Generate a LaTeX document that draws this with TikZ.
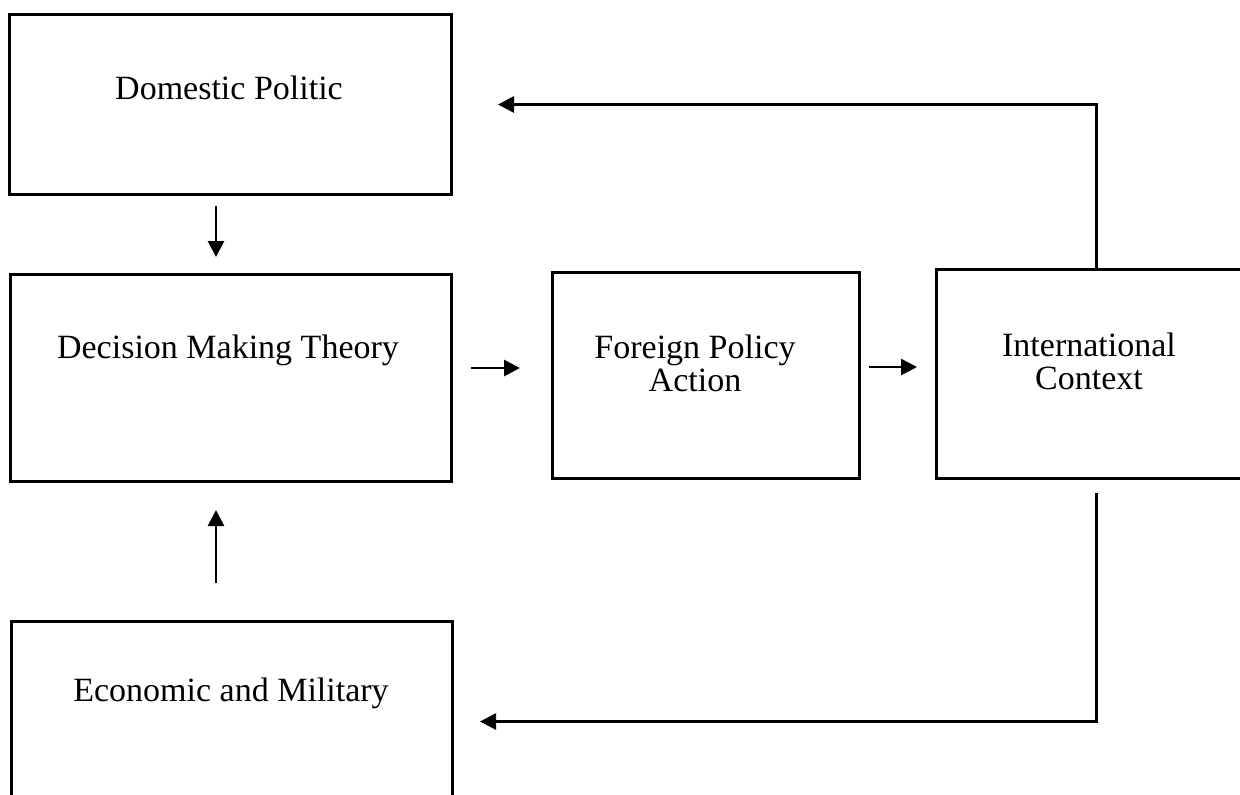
\documentclass[tikz,border=0pt]{standalone}
\usepackage{fontspec}
\setmainfont{Liberation Serif}
\usetikzlibrary{arrows.meta}

\begin{document}
\begin{tikzpicture}[x=0.5pt,y=-0.5pt,
  box/.style={draw, line width=1.5pt, inner sep=0pt, anchor=north west},
  txt/.style={font=\fontsize{17}{16.5}\selectfont, align=center, inner sep=0pt},
  arr/.style={line width=1.4pt, -{Triangle[length=8pt,width=8pt]}}]
\useasboundingbox (0,0) rectangle (1240,794);
\clip (0,0) rectangle (1240,794);
% boxes
\node [box, minimum width=221pt, minimum height=90pt] (dom) at (8,13) {};
\node [box, minimum width=220.5pt, minimum height=103.5pt] (dec) at (9,273) {};
\node [box, minimum width=153.5pt, minimum height=103pt] (fpa) at (551,271) {};
\node [box, minimum width=160pt, minimum height=104.5pt] (ict) at (935,268) {};
\node [box, minimum width=220.5pt, minimum height=100pt] (eco) at (10,620) {};
% texts
\node [txt] (dom-t) at (229,88) {Domestic Politic};
\node [txt] (dec-t) at (228,350) {Decision Making Theory};
\node [txt] (fpa-t) at (695,363) {Foreign Policy\\Action};
\node [txt] (ict-t) at (1089,361) {International\\Context};
\node [txt] (eco-t) at (231,693) {Economic and Military};
% arrows
\coordinate (vx) at (216,0);
\coordinate (ay) at (0,368);
\coordinate (by) at (0,367);
\draw [arr] ([yshift=-5pt]dom.south -| vx) -- ([yshift=8pt]dec.north -| vx);
\draw [arr] ([yshift=18.5pt]eco.north -| vx) -- ([yshift=-13.5pt]dec.south -| vx);
\draw [arr] ([xshift=9pt]dec.east |- ay) -- ([xshift=-15.5pt]fpa.west |- ay);
\draw [arr] ([xshift=4pt]fpa.east |- by) -- ([xshift=-9pt]ict.west |- by);
% feedback
\draw [arr] (ict.north) |- ([xshift=22.5pt]dom.east);
\draw [arr] ([yshift=-6.5pt]ict.south) |- ([xshift=13pt]eco.east);
\end{tikzpicture}
\end{document}
